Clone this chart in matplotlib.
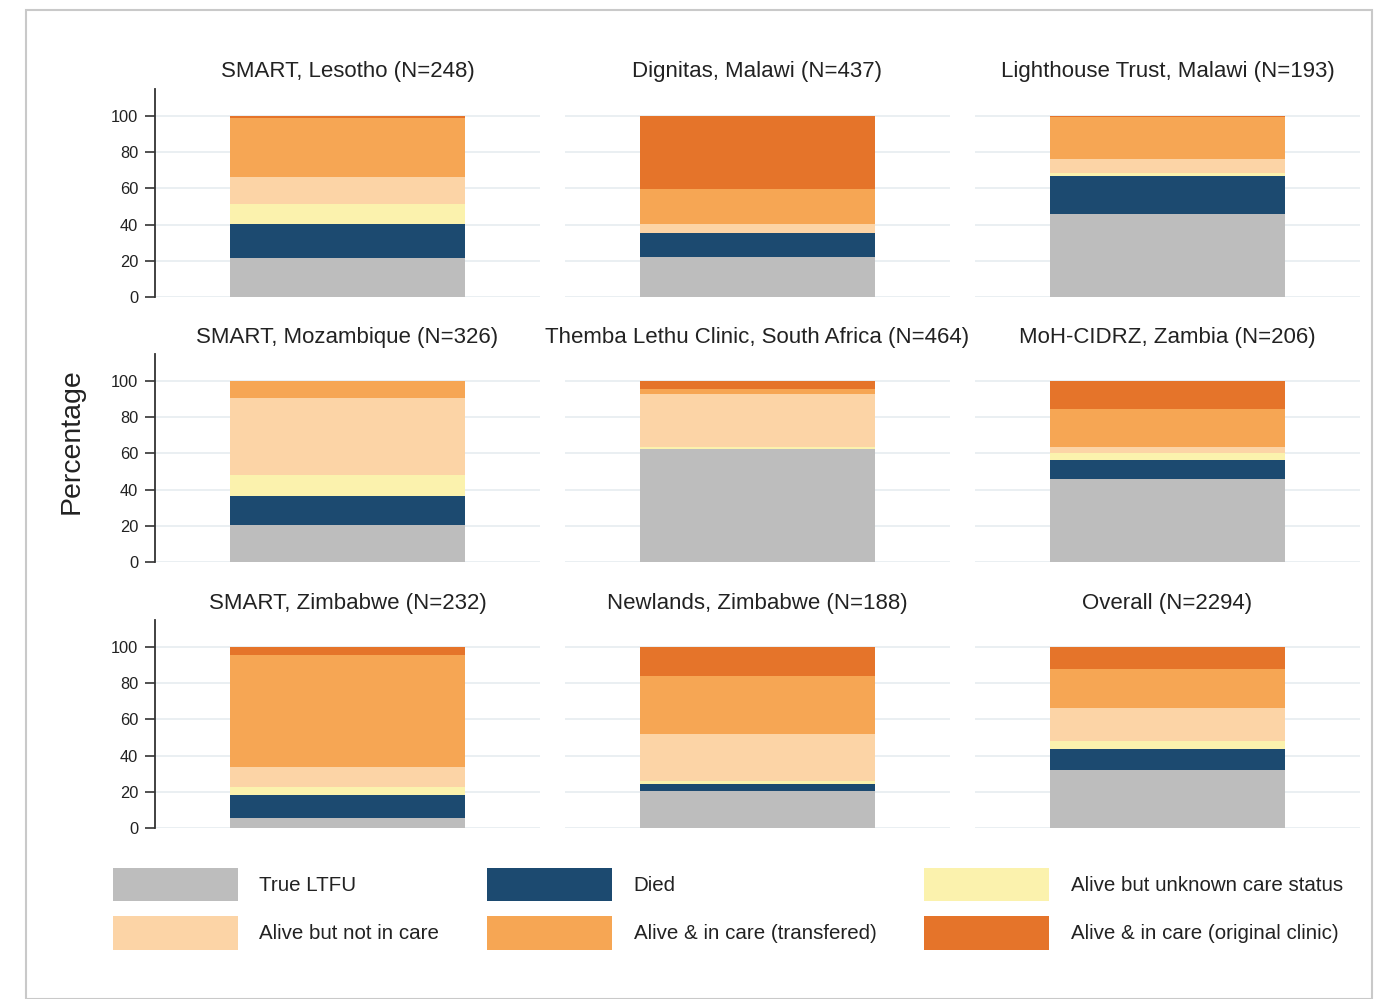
import matplotlib
matplotlib.use("Agg")
import matplotlib.pyplot as plt
from matplotlib.patches import Patch, Rectangle

plt.rcParams['font.family'] = ['Liberation Sans', 'DejaVu Sans']

# data (percent of patients per outcome)
sites = ["SMART, Lesotho (N=248)", "Dignitas, Malawi (N=437)", "Lighthouse Trust, Malawi (N=193)",
         "SMART, Mozambique (N=326)", "Themba Lethu Clinic, South Africa (N=464)", "MoH-CIDRZ, Zambia (N=206)",
         "SMART, Zimbabwe (N=232)", "Newlands, Zimbabwe (N=188)", "Overall (N=2294)"]
outcomes = ["True LTFU", "Died", "Alive but unknown care status",
            "Alive but not in care", "Alive & in care (transfered)", "Alive & in care (original clinic)"]
true_ltfu = [21.5, 22.1, 45.6, 20.3, 62.6, 46.1, 5.5, 20.6, 32.2]
died = [18.7, 13.0, 21.1, 16.0, 0.0, 10.0, 12.9, 3.7, 11.4]
unknown_status = [11.0, 0.3, 1.7, 11.7, 0.8, 4.2, 4.0, 1.4, 4.6]
not_in_care = [14.9, 5.2, 7.6, 42.8, 29.6, 3.2, 11.1, 26.4, 18.1]
transferred = [32.6, 19.3, 23.3, 9.0, 2.4, 20.8, 61.9, 31.7, 21.5]
original_clinic = [1.3, 40.1, 0.7, 0.2, 4.6, 15.7, 4.6, 16.2, 12.2]
yticks = [0, 20, 40, 60, 80, 100]

series = [true_ltfu, died, unknown_status, not_in_care, transferred, original_clinic]
colors = ["#bdbdbd", "#1c4a70", "#fbf2ad", "#fcd4a6", "#f6a654", "#e5742a"]

W, H = 1379, 999
fig = plt.figure(figsize=(W / 100, H / 100), dpi=100)

# light frame around the whole graph
fig.patches.append(Rectangle((26 / W, 0), (1372 - 26) / W, 1 - 10 / H, transform=fig.transFigure,
                             fill=False, edgecolor="#c9c9c9", linewidth=1.5))

zero_y = [297, 562, 828]
title_y = [71, 337, 603]
px_per_unit = 1.81
ytop = 115

for i, site in enumerate(sites):
    r, c = divmod(i, 3)
    left = 155 + 410 * c
    height_px = ytop * px_per_unit
    ax = fig.add_axes([left / W, 1 - zero_y[r] / H, 385 / W, height_px / H])
    bottom = 0
    for vals, col in zip(series, colors):
        ax.bar(0, vals[i], width=0.61, bottom=bottom, color=col, linewidth=0, zorder=2)
        bottom += vals[i]
    ax.set_xlim(-0.5, 0.5)
    ax.set_ylim(0, ytop)
    ax.set_yticks(yticks)
    ax.yaxis.grid(True, color="#e6ecf0", linewidth=1.2, zorder=0)
    ax.set_axisbelow(True)
    ax.xaxis.set_visible(False)
    for s in ["top", "right", "bottom"]:
        ax.spines[s].set_visible(False)
    if c == 0:
        ax.spines["left"].set_color("#333333")
        ax.spines["left"].set_linewidth(1.3)
        ax.tick_params(axis="y", length=7, width=1.2, color="#333333", labelsize=11.8,
                       labelcolor="#222222", pad=5)
    else:
        ax.spines["left"].set_visible(False)
        ax.tick_params(axis="y", length=0, labelleft=False)
    ax.set_title(site, fontsize=16, color="#222222", va="center",
                 y=(zero_y[r] - title_y[r]) / height_px, pad=0)
    ax.patch.set_alpha(0)

fig.text(72 / W, 1 - 441 / H, "Percentage", rotation=90, ha="center", va="center",
         fontsize=20.5, color="#222222")

order = [0, 3, 1, 4, 2, 5]
handles = [Patch(facecolor=colors[k], edgecolor="none", label=outcomes[k]) for k in order]
fig.legend(handles=handles, ncol=3, loc="upper left", bbox_to_anchor=(94 / W, 1 - 849 / H),
           frameon=False, fontsize=14.8, handlelength=6.1, handleheight=2.16,
           handletextpad=1.05, columnspacing=2.3, labelspacing=0.7, labelcolor="#222222")

fig.savefig("out.png", dpi=100, facecolor="white")
